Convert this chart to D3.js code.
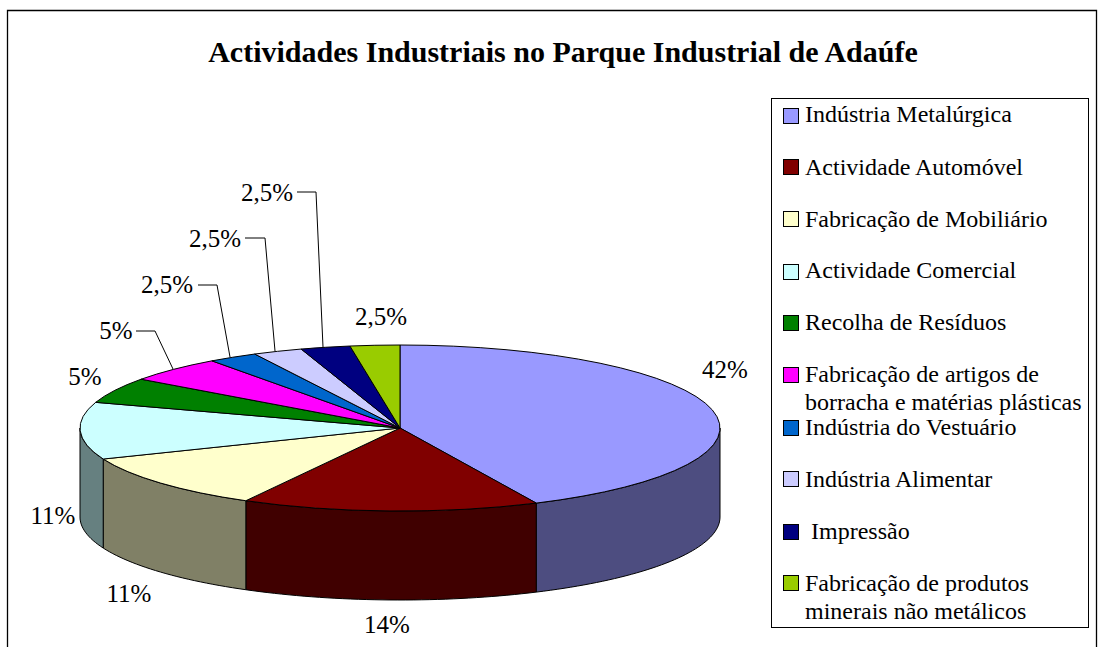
<!DOCTYPE html>
<html>
<head>
<meta charset="utf-8">
<script src="https://cdnjs.cloudflare.com/ajax/libs/d3/7.8.5/d3.min.js"></script>
<style>
html, body { margin: 0; padding: 0; background: #fff; }
svg { display: block; font-family: "Liberation Serif", serif; }
</style>
</head>
<body>
<div id="chart"></div>
<script>
const titleText = "Actividades Industriais no Parque Industrial de Adaúfe";
const categories = ["Indústria Metalúrgica", "Actividade Automóvel", "Fabricação de Mobiliário", "Actividade Comercial", "Recolha de Resíduos", "Fabricação de artigos de|borracha e matérias plásticas", "Indústria do Vestuário", "Indústria Alimentar", " Impressão", "Fabricação de produtos|minerais não metálicos"];
// slice sizes as measured on the picture, the printed labels are rounded differently
const sliceValues = [43, 15, 10.9, 11.1, 5, 5, 2.5, 2.5, 2.5, 2.5];
const sliceLabels = ["42%", "14%", "11%", "11%", "5%", "5%", "2,5%", "2,5%", "2,5%", "2,5%"];
const topColors = ["#9999ff", "#800000", "#ffffcc", "#ccffff", "#008000", "#ff00ff", "#0066cc", "#ccccff", "#000080", "#99cc00"];
const sideColors = ["#4d4d80", "#400000", "#808066", "#668080"];

const width = 1104, height = 647;
const cx = 400, cy = 428, rx = 320, ry = 83, depth = 89;

const svg = d3.select("#chart").append("svg")
    .attr("width", width)
    .attr("height", height);

// Outer frame, the bottom edge is cut off by the picture
svg.append("path")
    .attr("d", `M7.5,${height}V10.5H1096.5V${height}`)
    .attr("fill", "none")
    .attr("stroke", "#000")
    .attr("stroke-width", 1.3);

svg.append("text")
    .attr("x", 563)
    .attr("y", 62)
    .attr("text-anchor", "middle")
    .style("font-size", "30px")
    .style("font-weight", "bold")
    .text(titleText);

// Pie, squashed to an ellipse
const pie = d3.pie().sort(null).value(d => d);
const slices = pie(sliceValues);

const px = a => cx + rx * Math.sin(a);
const py = a => cy - ry * Math.cos(a);

const outline = d3.line().x(d => d[0]).y(d => d[1]);

function sidePath(a0, a1) {
    const n = Math.max(2, Math.ceil((a1 - a0) * 40));
    const angles = d3.range(n + 1).map(i => a0 + (a1 - a0) * i / n);
    const top = angles.map(a => [px(a), py(a)]);
    const bottom = angles.slice().reverse().map(a => [px(a), py(a) + depth]);
    return outline(top.concat(bottom)) + "Z";
}

// Only the front half has a visible wall
svg.append("g").selectAll("path")
    .data(slices.slice(0, sideColors.length))
    .join("path")
    .attr("d", d => sidePath(Math.max(d.startAngle, Math.PI / 2), Math.min(d.endAngle, Math.PI * 1.5)))
    .attr("fill", (d, i) => sideColors[i])
    .attr("stroke", "#000")
    .attr("stroke-width", 1)
    .attr("stroke-linejoin", "round");

const arc = d3.arc().innerRadius(0).outerRadius(rx);
svg.append("g")
    .attr("transform", `translate(${cx},${cy}) scale(1,${ry / rx})`)
    .selectAll("path")
    .data(slices)
    .join("path")
    .attr("d", arc)
    .attr("fill", (d, i) => topColors[i])
    .attr("stroke", "#000")
    .attr("stroke-width", 1)
    .attr("vector-effect", "non-scaling-stroke");

// Value labels with their leader lines, positions
const labelPos = [[725, 378], [387, 633], [129, 602], [53, 524], [85, 385], [116, 339], [167, 293], [215, 247], [267, 201], [381, 325]];
const leaders = [
    [[136, 331], [155, 331], [173, 369]],
    [[198, 285], [217, 285], [230, 357]],
    [[245, 238], [265, 238], [275, 351]],
    [[297, 192], [316, 192], [323, 347]]
];

svg.append("g").selectAll("path")
    .data(leaders)
    .join("path")
    .attr("d", outline)
    .attr("fill", "none")
    .attr("stroke", "#000")
    .attr("stroke-width", 1);

svg.append("g").selectAll("text")
    .data(sliceLabels)
    .join("text")
    .attr("x", (d, i) => labelPos[i][0])
    .attr("y", (d, i) => labelPos[i][1])
    .attr("text-anchor", "middle")
    .style("font-size", "25px")
    .text(d => d);

// Legend
svg.append("rect")
    .attr("x", 771.5)
    .attr("y", 98.5)
    .attr("width", 317)
    .attr("height", 529)
    .attr("fill", "#fff")
    .attr("stroke", "#000");

const legendY = [116, 167, 219, 272, 323, 375, 428, 479, 532, 583];
const legendBaseline = [122, 175, 227, 278, 330, 382, 435, 487, 539, 591];
const legend = svg.append("g").selectAll("g")
    .data(categories)
    .join("g");

legend.append("rect")
    .attr("x", 783.5)
    .attr("y", (d, i) => legendY[i] - 7.5)
    .attr("width", 15)
    .attr("height", 15)
    .attr("fill", (d, i) => topColors[i])
    .attr("stroke", "#000");

legend.each(function (d, k) {
    const g = d3.select(this);
    d.split("|").forEach((line, i) => {
        g.append("text")
            .attr("x", 805)
            .attr("y", legendBaseline[k] + i * 28)
            .style("white-space", "pre")
            .style("font-size", "24px")
            .text(line);
    });
});
</script>
</body>
</html>
